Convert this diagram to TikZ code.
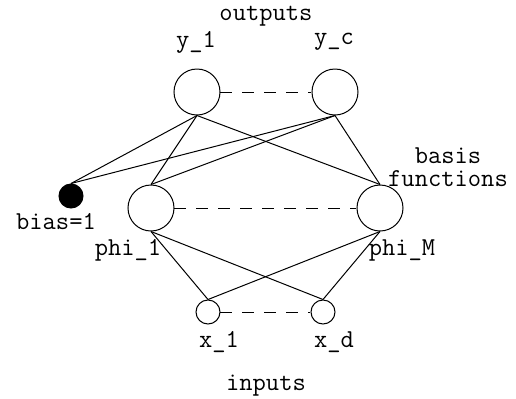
\documentclass[tikz,border=0pt]{standalone}
\usetikzlibrary{positioning}

\begin{document}
\begin{tikzpicture}[
    x=0.5pt, y=-0.5pt,
    line width=0.5pt,
    unit/.style={circle, draw, inner sep=0pt, minimum size=23pt},
    inunit/.style={circle, draw, inner sep=0pt, minimum size=12pt},
    biasunit/.style={circle, draw, fill=black, inner sep=0pt, minimum size=12pt},
    lbl/.style={inner sep=0pt, font=\ttfamily\fontsize{12.9}{11.5}\selectfont, align=center},
    link/.style={draw, line width=0.5pt},
    gap/.style={draw, dash pattern=on 6pt off 5pt}
]
\useasboundingbox (0,0) rectangle (516,398);

% Output layer
\node[unit] (y1) at (197,92) {};
\node[unit] (yc) at (335,92) {};

% Hidden layer (basis functions)
\node[unit] (phi1) at (151,208) {};
\node[unit] (phiM) at (380,208) {};
\node[biasunit] (bias) at (71,196) {};

% Input layer
\node[inunit] (x1) at (208,312) {};
\node[inunit] (xd) at (323,312) {};

% Weights
\draw[link] (y1.south) -- (bias.north);
\draw[link] (y1.south) -- (phi1.north);
\draw[link] (y1.south) -- (phiM.north);
\draw[link] (yc.south) -- (bias.north);
\draw[link] (yc.south) -- (phi1.north);
\draw[link] (yc.south) -- (phiM.north);
\draw[link] (x1.north) -- (phi1.south);
\draw[link] (x1.north) -- (phiM.south);
\draw[link] (xd.north) -- (phi1.south);
\draw[link] (xd.north) -- (phiM.south);

% Dashed continuation
\draw[gap] (y1.east) -- (yc.west);
\draw[gap] (phi1.east) -- (phiM.west);
\draw[gap] (x1.east) -- (xd.west);

% Labels
\node[lbl] (outlbl) at (266,16) {outputs};
\node[lbl] (y1lbl) at (196,42) {y\_1};
\node[lbl] (yclbl) at (334,42) {y\_c};
\node[lbl] (basislbl) at (448,167) {basis\\functions};
\node[lbl] (biaslbl) at (56,222) {bias=1};
\node[lbl] (phi1lbl) at (128,250) {phi\_1};
\node[lbl] (phiMlbl) at (402,250) {phi\_M};
\node[lbl] (x1lbl) at (219,342) {x\_1};
\node[lbl] (xdlbl) at (334,342) {x\_d};
\node[lbl] (inlbl) at (266,386) {inputs};

\end{tikzpicture}
\end{document}
